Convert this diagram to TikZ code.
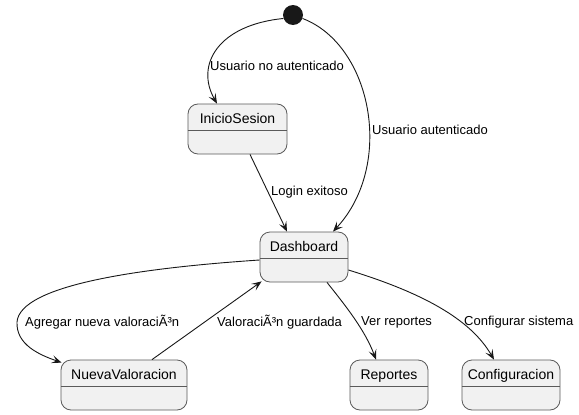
\documentclass[tikz,border=0pt]{standalone}
\usepackage{fontspec}
\setmainfont{Liberation Sans}
\usetikzlibrary{arrows.meta}
\definecolor{boxfill}{HTML}{F1F1F1}
\definecolor{boxline}{HTML}{5A5A5A}
\definecolor{edgecol}{HTML}{181818}
\tikzset{
  statebox/.style={draw=boxline, fill=boxfill, line width=0.8pt, rounded corners=10pt,
    inner sep=0pt, text height=19pt, text depth=31pt, font=\fontsize{14}{16}\selectfont},
  edge/.style={draw=edgecol, line width=0.9pt, -{Stealth[length=10pt,width=8pt,inset=4.5pt]}},
  elabel/.style={anchor=west, inner sep=0pt, font=\fontsize{13}{15}\selectfont, text=black},
  initst/.style={circle, fill=edgecol, minimum size=20pt, inner sep=0pt}
}
\begin{document}
\begin{tikzpicture}[x=1pt,y=-1pt]
\useasboundingbox[fill=white] (0,0) rectangle (579,415);
\node[initst] (init) at (293,15) {};
\node[statebox, minimum width=99pt, minimum height=50pt] (ini) at (237.5,129) {InicioSesion};
\node[statebox, minimum width=88pt, minimum height=50pt] (dash) at (304,257) {Dashboard};
\node[statebox, minimum width=126pt, minimum height=50pt] (nueva) at (124,385) {NuevaValoracion};
\node[statebox, minimum width=78pt, minimum height=50pt] (rep) at (389,385) {Reportes};
\node[statebox, minimum width=98pt, minimum height=50pt] (conf) at (511,385) {Configuracion};
\foreach \n in {ini,dash,nueva,rep,conf}{
  \draw[boxline, line width=0.8pt] ([yshift=-27pt]\n.north west) -- ([yshift=-27pt]\n.north east);
}
% edges
\draw[edge] (init.200) .. controls (218,25) and (195,65) .. ([xshift=-20.5pt]ini.north);
\draw[edge] (init.-20) .. controls (372,45) and (395,165) .. ([xshift=29pt]dash.north);
\draw[edge] ([xshift=12.5pt]ini.south) -- ([xshift=-17pt]dash.north);
\draw[edge] ([yshift=-3pt]dash.west) .. controls (140,268) and (20,285) .. (17,322)
   .. controls (16,345) and (40,355) .. ([yshift=-3pt,xshift=1pt]nueva.north west);
\draw[edge] ([xshift=28pt]nueva.north) -- ([xshift=2pt,yshift=1pt]dash.south west);
\draw[edge] ([xshift=23pt]dash.south) .. controls (345,305) and (365,330) .. ([xshift=-13pt]rep.north);
\draw[edge] ([yshift=-13pt]dash.east) .. controls (420,292) and (470,318) .. ([xshift=-17pt]conf.north);
% labels
\node[elabel] (l1) at (210,66) {Usuario no autenticado};
\node[elabel] (l2) at (372,130) {Usuario autenticado};
\node[elabel] (l3) at (271,192) {Login exitoso};
\node[elabel] (l4) at (25,322) {Agregar nueva valoraciÃ³n};
\node[elabel] (l5) at (217,322) {ValoraciÃ³n guardada};
\node[elabel] (l6) at (361,322) {Ver reportes};
\node[elabel] (l7) at (464,322) {Configurar sistema};
\end{tikzpicture}
\end{document}
